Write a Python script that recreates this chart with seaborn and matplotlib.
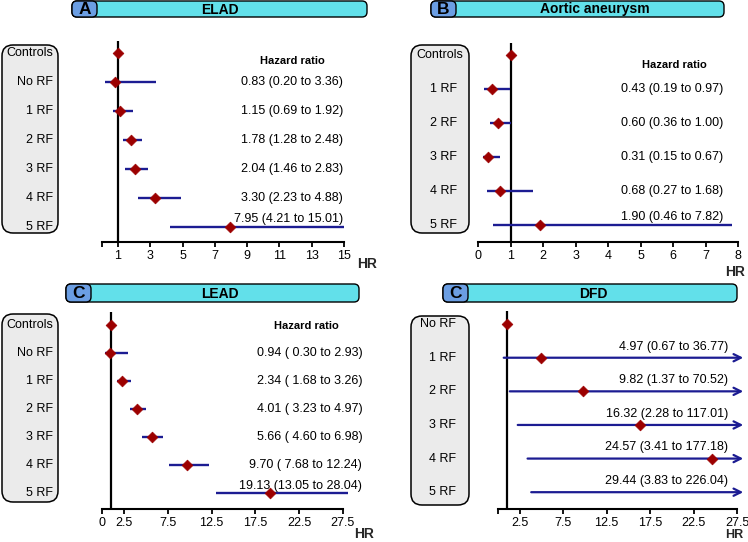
import numpy as np
import pandas as pd
import matplotlib
matplotlib.use("Agg")
import matplotlib.pyplot as plt
import seaborn as sns
from matplotlib.patches import FancyBboxPatch
from matplotlib.transforms import blended_transform_factory

# ---------------- data ----------------
elad_labels = ["Controls", "No RF", "1 RF", "2 RF", "3 RF", "4 RF", "5 RF"]
elad_hr = [1.00, 0.83, 1.15, 1.78, 2.04, 3.30, 7.95]
elad_lo = [np.nan, 0.20, 0.69, 1.28, 1.46, 2.23, 4.21]
elad_hi = [np.nan, 3.36, 1.92, 2.48, 2.83, 4.88, 15.01]

aa_labels = ["Controls", "1 RF", "2 RF", "3 RF", "4 RF", "5 RF"]
aa_hr = [1.00, 0.43, 0.60, 0.31, 0.68, 1.90]
aa_lo = [np.nan, 0.19, 0.36, 0.15, 0.27, 0.46]
aa_hi = [np.nan, 0.97, 1.00, 0.67, 1.68, 7.82]

lead_labels = ["Controls", "No RF", "1 RF", "2 RF", "3 RF", "4 RF", "5 RF"]
lead_hr = [1.00, 0.94, 2.34, 4.01, 5.66, 9.70, 19.13]
lead_lo = [np.nan, 0.30, 1.68, 3.23, 4.60, 7.68, 13.05]
lead_hi = [np.nan, 2.93, 3.26, 4.97, 6.98, 12.24, 28.04]

dfd_labels = ["No RF", "1 RF", "2 RF", "3 RF", "4 RF", "5 RF"]
dfd_hr = [1.00, 4.97, 9.82, 16.32, 24.57, 29.44]
dfd_lo = [np.nan, 0.67, 1.37, 2.28, 3.41, 3.83]
dfd_hi = [np.nan, 36.77, 70.52, 117.01, 177.18, 226.04]

elad_ticks = [0, 1, 3, 5, 7, 9, 11, 13, 15]
elad_ticklabels = ["", "1", "3", "5", "7", "9", "11", "13", "15"]
aa_ticks = [0, 1, 2, 3, 4, 5, 6, 7, 8]
aa_ticklabels = ["0", "1", "2", "3", "4", "5", "6", "7", "8"]
lead_ticks = [0, 2.5, 7.5, 12.5, 17.5, 22.5, 27.5]
lead_ticklabels = ["0", "2.5", "7.5", "12.5", "17.5", "22.5", "27.5"]
dfd_ticks = [0, 2.5, 7.5, 12.5, 17.5, 22.5, 27.5]
dfd_ticklabels = ["", "2.5", "7.5", "12.5", "17.5", "22.5", "27.5"]

titles = ["ELAD", "Aortic aneurysm", "LEAD", "DFD"]
letters = ["A", "B", "C", "C"]

# ---------------- style ----------------
sns.set_theme(style="white")
plt.rcParams["font.family"] = ["Liberation Sans", "DejaVu Sans"]

NAVY = "#1c1c92"
RED = "#9c0000"
CYAN = "#62e0ea"
BLUE = "#6b9ee3"
GREY = "#ebebeb"

W, H = 748, 542
fig = plt.figure(figsize=(W / 100, H / 100), dpi=100)
bg = fig.add_axes([0, 0, 1, 1], zorder=0)
bg.set_xlim(0, W)
bg.set_ylim(H, 0)
bg.axis("off")


def header(x0, x1, y0, y1, lx1, letter, title, tx):
    bg.add_patch(FancyBboxPatch((x0, y0), x1 - x0, y1 - y0,
                                boxstyle="round,pad=0,rounding_size=5",
                                fc=CYAN, ec="black", lw=1.0))
    bg.add_patch(FancyBboxPatch((x0, y0), lx1 - x0, y1 - y0,
                                boxstyle="round,pad=0,rounding_size=5",
                                fc=BLUE, ec="black", lw=1.0))
    bg.text((x0 + lx1) / 2, (y0 + y1) / 2 + 0.5, letter, ha="center", va="center",
            fontsize=12.5, fontweight="bold", color="black")
    bg.text(tx, (y0 + y1) / 2 + 0.5, title, ha="center", va="center",
            fontsize=10, fontweight="bold", color="black")


def label_box(x0, x1, y0, y1):
    bg.add_patch(FancyBboxPatch((x0, y0), x1 - x0, y1 - y0,
                                boxstyle="round,pad=0,rounding_size=11",
                                fc=GREY, ec="black", lw=1.1))


def panel(x0, scale, xmax, top, bottom, ylim, labels, hr, lo, hi, ticks,
          ticklabels, bound, label_x, txt_x, txt_fmt, hdr_pos, last_off,
          all_off=0.0, arrows=False, first_label_x=None):
    ax = fig.add_axes([x0 / W, 1 - bottom / H, xmax * scale / W, (bottom - top) / H],
                      zorder=2)
    ax.patch.set_visible(False)
    rows = np.arange(len(labels))
    df = pd.DataFrame({"row": rows, "hr": hr, "lo": lo, "hi": hi})
    ax.axvline(1, color="black", lw=1.6, zorder=1)
    ci = df.dropna()
    if arrows:
        for _, r in ci.iterrows():
            ax.annotate("", xy=(xmax - 0.1, r["row"]), xytext=(r["lo"], r["row"]),
                        arrowprops=dict(arrowstyle="->", color=NAVY, lw=1.6,
                                        mutation_scale=13, shrinkA=0, shrinkB=0),
                        annotation_clip=False, zorder=2)
    else:
        ax.hlines(ci["row"], ci["lo"], ci["hi"], color=NAVY, lw=1.7, zorder=2,
                  clip_on=False)
    sns.scatterplot(data=df, x="hr", y="row", marker="D", s=30, color=RED,
                    edgecolor=RED, linewidth=0.5, ax=ax, zorder=3, legend=False)
    ax.set_xlim(0, xmax)
    ax.set_ylim(*ylim)
    ax.set_xlabel("")
    ax.set_ylabel("")
    ax.set_yticks([])
    for s in ["left", "top", "right"]:
        ax.spines[s].set_visible(False)
    ax.spines["bottom"].set_bounds(0, bound)
    ax.spines["bottom"].set_color("black")
    ax.spines["bottom"].set_linewidth(1.5)
    ax.set_xticks(ticks)
    ax.set_xticklabels(ticklabels)
    ax.tick_params(axis="x", direction="out", length=3.5, width=1.3, colors="black",
                   labelsize=9, pad=2.5, bottom=True)
    tr = blended_transform_factory(bg.transData, ax.transData)
    for i, lab in enumerate(labels):
        lx = first_label_x if (i == 0 and first_label_x is not None) else label_x
        ax.text(lx, i, lab, transform=tr, ha="right", va="center", fontsize=9,
                color="black")
    for _, r in ci.iterrows():
        i = int(r["row"])
        off = all_off + (last_off if i == len(labels) - 1 else 0.0)
        ax.text(txt_x, i + off, txt_fmt(r["hr"], r["lo"], r["hi"]), ha="right",
                va="center", fontsize=9, color="black", clip_on=False)
    if hdr_pos is not None:
        ax.text(hdr_pos[0], hdr_pos[1], "Hazard ratio", ha="center", va="center",
                fontsize=8, fontweight="bold", color="black")
    return ax


def fmt_std(h, l, u):
    return f"{h:.2f} ({l:.2f} to {u:.2f})"


def fmt_lead(h, l, u):
    return f"{h:.2f} ({l:5.2f} to {u:.2f})"


# Panel A - ELAD
header(72, 367, 1, 17, 97, letters[0], titles[0], 220)
label_box(2, 58, 45, 233)
panel(101.9, 16.14, 15.2, 41, 242, (6.52, -0.41), elad_labels, elad_hr, elad_lo,
      elad_hi, elad_ticks, elad_ticklabels, 15, 53, 14.94, fmt_std, (11.78, 0.28), -0.27)
bg.text(367, 264, "HR", ha="center", va="center", fontsize=10, fontweight="bold")

# Panel B - Aortic aneurysm
header(431, 724, 1, 17, 456, letters[1], titles[1], 595)
label_box(411, 469, 45, 233)
panel(478, 32.54, 8.05, 43, 242, (5.5, -0.35), aa_labels, aa_hr, aa_lo, aa_hi,
      aa_ticks, aa_ticklabels, 8, 457, 7.54, fmt_std, (6.03, 0.29), -0.24,
      first_label_x=463)
bg.text(735, 272, "HR", ha="center", va="center", fontsize=10, fontweight="bold")

# Panel C - LEAD
header(66, 359, 284, 302, 91, letters[2], titles[2], 220)
label_box(2, 58, 314, 502)
panel(102, 8.76, 28.2, 312, 509, (6.57, -0.46), lead_labels, lead_hr, lead_lo,
      lead_hi, lead_ticks, lead_ticklabels, 27.5, 53, 29.7, fmt_lead, (23.3, 0.04), -0.25)
bg.text(364, 534, "HR", ha="center", va="center", fontsize=10, fontweight="bold")

# Panel D - DFD
header(443, 737, 284, 302, 468, letters[3], titles[3], 593)
label_box(411, 469, 316, 505)
panel(497.9, 8.70, 28.3, 311, 509, (5.5, -0.39), dfd_labels, dfd_hr, dfd_lo, dfd_hi,
      dfd_ticks, dfd_ticklabels, 27.5, 456, 26.45, fmt_std, None, 0.0, all_off=-0.33,
      arrows=True)
bg.text(734, 535, "HR", ha="center", va="center", fontsize=9, fontweight="bold")

fig.savefig("out.png", dpi=100)
